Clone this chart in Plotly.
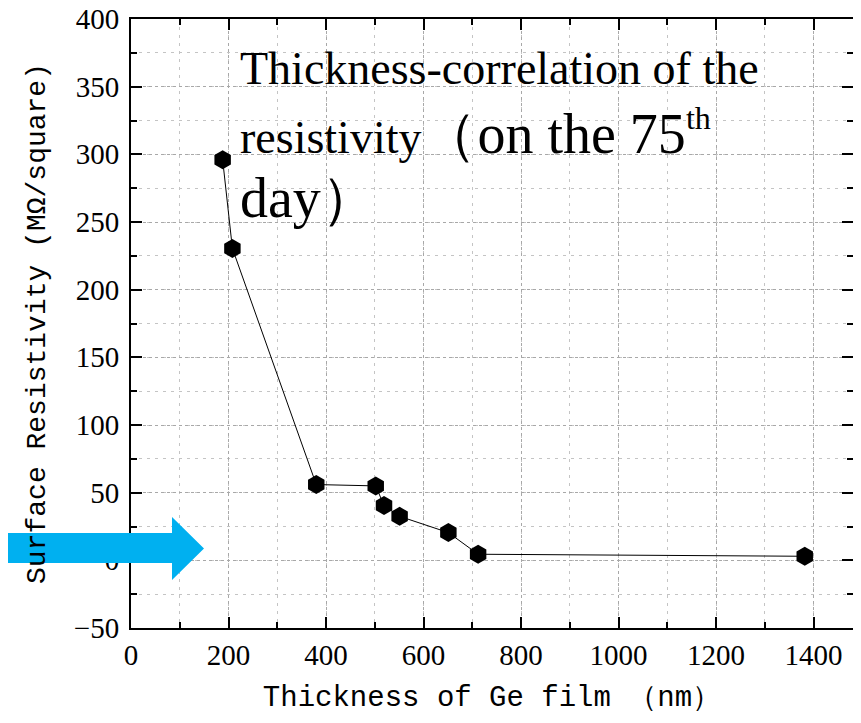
import plotly.graph_objects as go

# thickness (nm) vs surface resistivity (MOhm/square)
thickness = [188, 208, 380, 502, 519, 551, 651, 712, 1382]
resistivity = [296, 230.5, 56, 55, 40.5, 32.5, 20.5, 4.5, 3]

x_ticks = [0, 200, 400, 600, 800, 1000, 1200, 1400]
y_ticks = [-50, 0, 50, 100, 150, 200, 250, 300, 350, 400]

# page has an 8px body margin, so the figure is drawn 16px smaller
OFF = 8
W, H = 861 - 2 * OFF, 723 - 2 * OFF
L, R, T, B = 123, 0, 11, 87
pw, ph = W - L - R, H - T - B


def px(x):
    # page pixel -> paper x
    return (x - OFF - L) / pw


def py(y):
    # page pixel -> paper y
    return (H - B - (y - OFF)) / ph


fig = go.Figure()
fig.add_trace(go.Scatter(
    x=thickness, y=resistivity, mode="lines+markers",
    line=dict(color="black", width=1),
    marker=dict(symbol="hexagon", size=19, color="black"),
    showlegend=False))
# dummy trace so the right-hand tick axis exists
fig.add_trace(go.Scatter(x=[None], y=[None], yaxis="y2", showlegend=False))

tick_font = dict(family="Liberation Serif", size=29, color="black")
axis_common = dict(
    showline=True, linecolor="black", linewidth=2,
    ticks="inside", tickcolor="black", tickwidth=2, automargin=False,
    showgrid=True, gridcolor="#a8a8a8", gridwidth=1, griddash="dot",
    zeroline=False, ticklabeloverflow="allow",
)
x_minor = dict(dtick=100, ticks="inside", ticklen=6, tickwidth=2, tickcolor="black",
               showgrid=True, gridcolor="#c4c4c4", griddash="3px,5px")
y_minor = dict(dtick=25, ticks="inside", ticklen=6, tickwidth=2, tickcolor="black",
               showgrid=True, gridcolor="#c4c4c4", griddash="3px,5px")

fig.update_layout(
    xaxis=dict(range=[0, 1481], tickvals=x_ticks, ticklen=11, tickfont=tick_font,
               mirror="ticks", minor=x_minor,
               title=dict(text="Thickness of Ge film （nm）", standoff=16,
                          font=dict(family="Liberation Mono", size=29, color="black")),
               **axis_common),
    yaxis=dict(range=[-50, 400], tickvals=y_ticks, ticklen=11, tickfont=tick_font,
               mirror=False, minor=y_minor, ticklabelstandoff=4,
               title=dict(text="Surface Resistivity (MΩ/square)", standoff=20,
                          font=dict(family="Liberation Mono", size=28, color="black")),
               **axis_common),
    yaxis2=dict(overlaying="y", side="right", range=[-50, 400], tickvals=y_ticks,
                ticks="inside", ticklen=11, tickwidth=2, tickcolor="black",
                showticklabels=False, showline=False, showgrid=False, zeroline=False,
                minor=dict(dtick=25, ticks="inside", ticklen=6, tickwidth=2,
                           tickcolor="black", showgrid=False),
                automargin=False),
)

serif = dict(family="Liberation Serif", size=46, color="black")
fig.add_annotation(x=219, y=363.5, xref="x", yref="y", xanchor="left", yanchor="middle",
                   text="Thickness-correlation of the", showarrow=False, font=serif)
fig.add_annotation(x=219, y=316, xref="x", yref="y", xanchor="left", yanchor="middle",
                   text="resistivity<span style='font-size:56px'>（on the 75"
                        "<sup><span style='font-size:32px'>th</span></sup></span>",
                   showarrow=False, font=serif)
fig.add_annotation(x=219, y=268, xref="x", yref="y", xanchor="left", yanchor="middle",
                   text="day）", showarrow=False,
                   font=dict(family="Liberation Serif", size=56, color="black"))

# blue block arrow pointing at the plot (page pixels)
arrow = [(0, 533), (172, 533), (172, 517), (204, 548.5), (172, 580), (172, 563), (0, 563)]
path = "M " + " L ".join(f"{px(a):.4f},{py(b):.4f}" for a, b in arrow) + " Z"
fig.add_shape(type="path", path=path, xref="paper", yref="paper",
              fillcolor="#00B0F0", line=dict(width=0), layer="above")

fig.update_layout(
    width=W, height=H,
    margin=dict(l=L, r=R, t=T, b=B, autoexpand=False),
    font=dict(family="Liberation Serif", color="black"),
    plot_bgcolor="white", paper_bgcolor="white",
)

fig.write_html("out.html")
